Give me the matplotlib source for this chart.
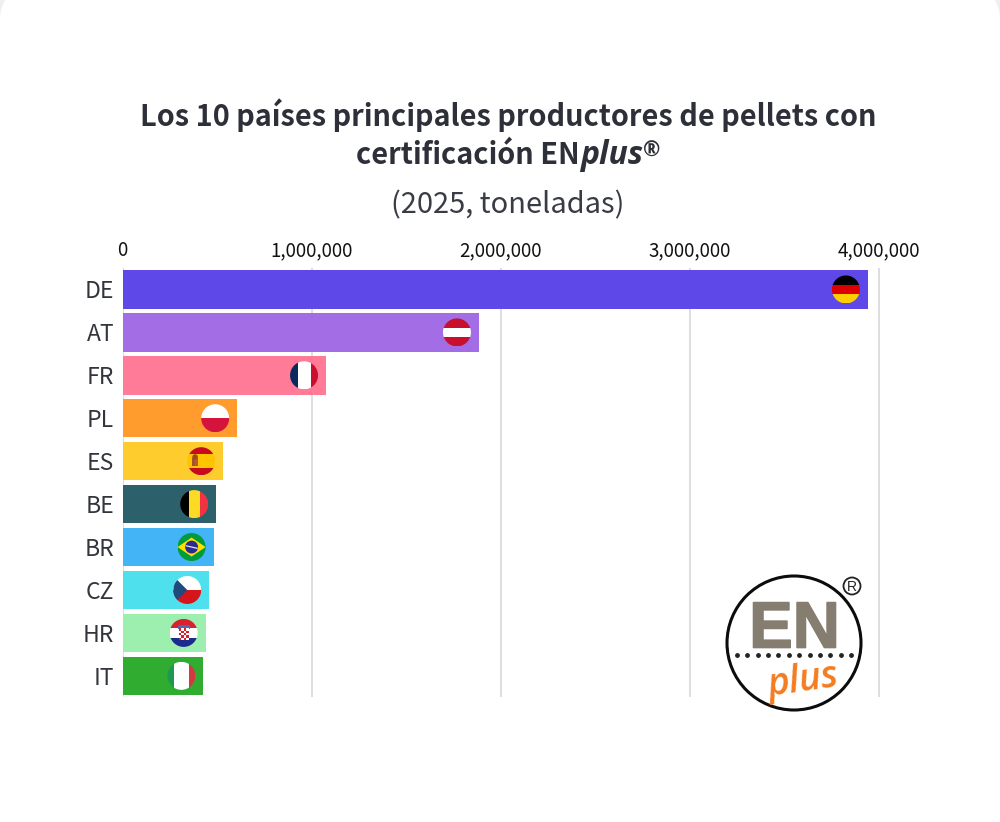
import matplotlib
matplotlib.use("Agg")
import matplotlib.pyplot as plt
import matplotlib.patheffects as pe
import numpy as np
from matplotlib.patches import Circle, FancyBboxPatch, Polygon, Rectangle
from matplotlib.transforms import Affine2D

countries = ["DE", "AT", "FR", "PL", "ES", "BE", "BR", "CZ", "HR", "IT"]
tonnes = [3944000, 1886000, 1077000, 607000, 533000, 496000, 482000, 459000, 440000, 428000]
bar_colors = ["#5b45e8", "#a16ae6", "#ff7896", "#ff9a28", "#ffcb28",
              "#275e69", "#3fb3f5", "#4be0ee", "#9aefae", "#2cab2c"]
x_ticks = [0, 1000000, 2000000, 3000000, 4000000]

SANS = ["Noto Sans CJK SC", "DejaVu Sans"]
W, H = 1000, 822

fig = plt.figure(figsize=(W / 100, H / 100), dpi=100, facecolor="#efefef")
plt.rcParams["font.family"] = SANS

# rounded card behind everything
bg = fig.add_axes([0, 0, 1, 1], zorder=0)
bg.set_xlim(0, W)
bg.set_ylim(H, 0)
bg.axis("off")
bg.add_patch(FancyBboxPatch((0, -10), W, H + 80, boxstyle="round,pad=0,rounding_size=30",
                            fc="white", ec="none", clip_on=False))

px_per_unit = 189 / 1e6
ax = fig.add_axes([122.5 / W, 1 - 697.3 / H, 757.5 / W, 429.3 / H], zorder=1)
ax.patch.set_alpha(0)
ax.set_xlim(0, 757.5 / px_per_unit)
ax.set_ylim(9.5, -0.5)
ax.set_axisbelow(True)
ax.grid(axis="x", color="#dedede", lw=1.4)
ax.barh(range(len(countries)), tonnes, height=0.895, color=bar_colors, alpha=0.98, zorder=2)

for s in ax.spines.values():
    s.set_visible(False)
ax.tick_params(length=0)
ax.xaxis.tick_top()
ax.set_xticks(x_ticks)
ax.set_xticklabels([f"{v:,}" for v in x_ticks], fontsize=13.5, color="#111111")
ax.tick_params(axis="x", pad=5)
ax.set_yticks(range(len(countries)))
ax.set_yticklabels(countries, fontsize=16.5, color="#33353d",
                   transform=ax.get_yaxis_transform())
ax.tick_params(axis="y", pad=6)
for lab in ax.get_yticklabels():
    lab.set_y(lab.get_position()[1])
    lab.set_verticalalignment("center_baseline")


def flag_parts(code):
    # shapes in a unit circle, y up
    def hbands(cols):
        n = len(cols)
        return [Rectangle((-1, 1 - 2 * (i + 1) / n), 2, 2 / n, fc=c) for i, c in enumerate(cols)]

    def vbands(cols, a, b):
        return [Rectangle((-1, -1), a + 1, 2, fc=cols[0]),
                Rectangle((a, -1), b - a, 2, fc=cols[1]),
                Rectangle((b, -1), 1 - b, 2, fc=cols[2])]

    if code == "DE":
        return hbands(["#000000", "#dd0000", "#ffce00"])
    if code == "AT":
        return hbands(["#c8102e", "#ffffff", "#c8102e"])
    if code == "FR":
        return vbands(["#0a2a5e", "#ffffff", "#c8102e"], -0.45, 0.5)
    if code == "PL":
        return hbands(["#ffffff", "#d4143c"])
    if code == "ES":
        parts = [Rectangle((-1, 0.5), 2, 0.5, fc="#c60b1e"),
                 Rectangle((-1, -0.5), 2, 1, fc="#ffc400"),
                 Rectangle((-1, -1), 2, 0.5, fc="#c60b1e")]
        parts += [Rectangle((-0.68, -0.32), 0.24, 0.55, fc="#a5532a"),
                  Rectangle((-0.44, -0.32), 0.24, 0.55, fc="#c8551f"),
                  Circle((-0.44, 0.3), 0.2, fc="#9c4a1e")]
        return parts
    if code == "BE":
        return vbands(["#000000", "#fdda24", "#ef3340"], -0.36, 0.43)
    if code == "BR":
        return [Rectangle((-1, -1), 2, 2, fc="#009b3a"),
                Polygon([(-1, 0), (0, 0.68), (1, 0), (0, -0.68)], fc="#fedf00"),
                Circle((0, 0), 0.46, fc="#2a2a8f"),
                Polygon([(-0.44, 0.14), (0.44, -0.05), (0.42, -0.14), (-0.42, 0.05)], fc="#e8e8f0")]
    if code == "CZ":
        return hbands(["#ffffff", "#d7141a"]) + [Polygon([(-1, 1), (0.0, 0), (-1, -1)], fc="#1f4a7c")]
    if code == "HR":
        parts = hbands(["#d8202e", "#ffffff", "#1b2b8f"])
        parts += [Rectangle((-0.42, 0.3), 0.84, 0.3, fc="#4a6db0")]
        parts += [Rectangle((-0.36, -0.5), 0.72, 0.82, fc="#ffffff")]
        for r in range(5):
            for c in range(4):
                if (r + c) % 2 == 0:
                    parts.append(Rectangle((-0.36 + c * 0.18, 0.32 - (r + 1) * 0.164), 0.18, 0.164, fc="#d8202e"))
        return parts
    if code == "IT":
        return vbands(["#1e9a50", "#ffffff", "#d03a40"], -0.55, 0.52)


def draw_flag(code, value, row, radius=14, inset=22):
    px, py = ax.transData.transform((value, row))
    tr = Affine2D().scale(radius).translate(px - inset, py)
    clip = Circle((0, 0), 1, transform=tr, fc="none", ec="none")
    ax.add_artist(clip)
    for p in flag_parts(code):
        p.set_transform(tr)
        p.set_edgecolor("none")
        p.set_zorder(4)
        p.set_clip_on(True)
        ax.add_artist(p)
        p.set_clip_path(clip)


for row, (code, value) in enumerate(zip(countries, tonnes)):
    draw_flag(code, value, row)

# title, with the italic part of the brand set separately
TITLE_COLOR = "#2e3039"
bg.text(508, 125.5, "Los 10 países principales productores de pellets con", ha="center",
        va="baseline", fontsize=20.8, fontweight="bold", color=TITLE_COLOR, family=SANS)
renderer = fig.canvas.get_renderer()
pieces = [("certificación EN", 20.8, "normal", SANS, 164.5),
          ("plus", 23, "italic", ["Open Sans", "DejaVu Sans"], 164.5),
          ("®", 15, "normal", ["Open Sans", "DejaVu Sans"], 157)]
made = [bg.text(0, y, s, fontsize=fs, fontweight="bold", fontstyle=st, family=fam,
                color=TITLE_COLOR, va="baseline")
        for s, fs, st, fam, y in pieces]
widths = [t.get_window_extent(renderer).width for t in made]
x = 508 - sum(widths) / 2
for t, w in zip(made, widths):
    t.set_x(x)
    x += w
bg.text(508, 213.5, "(2025, toneladas)", ha="center", va="baseline", fontsize=20.9,
        color="#3a3c45", family=SANS)

# certification logo
logo = fig.add_axes([0, 0, 1, 1], zorder=3)
logo.set_xlim(0, W)
logo.set_ylim(H, 0)
logo.axis("off")
logo.add_patch(Circle((794, 643), 67, fc="white", ec="#0c0c0c", lw=2.2))
logo.text(794.5, 647.5, "EN", ha="center", va="baseline", fontsize=47, fontweight="bold",
          color="#857d70", family=["Liberation Sans"],
          path_effects=[pe.withStroke(linewidth=1.2, foreground="#857d70")])
logo.scatter(np.linspace(737, 851, 12), [655] * 12, s=6, color="#222222", zorder=5)
logo.text(803, 681, "plus", ha="center", va="center", fontsize=27, fontstyle="italic",
          fontweight="semibold", color="#f47b20", rotation=8,
          family=["Open Sans", "Liberation Sans"])
logo.add_patch(Circle((852, 586), 8.5, fc="white", ec="#222222", lw=1.3))
logo.text(852, 586.5, "R", ha="center", va="center", fontsize=10, color="#222222",
          family=["Liberation Sans"])

fig.savefig("out.png", dpi=100, facecolor=fig.get_facecolor())
